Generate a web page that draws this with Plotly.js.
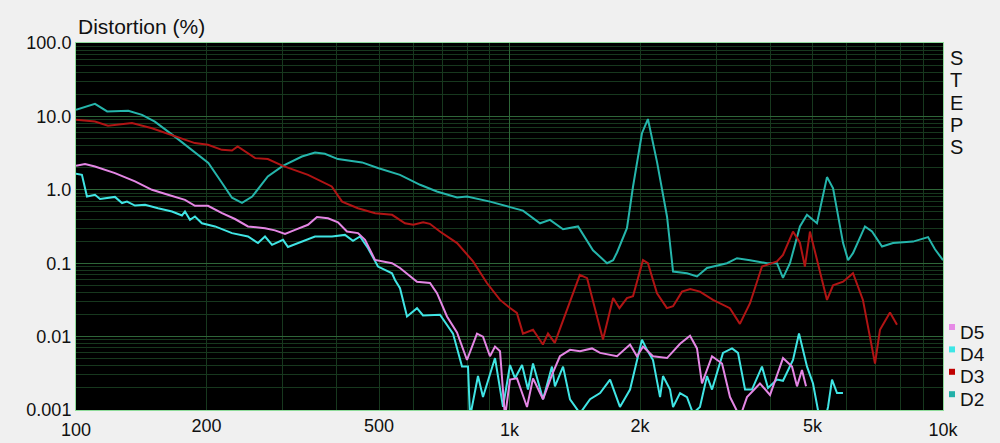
<!DOCTYPE html>
<html><head><meta charset="utf-8">
<script src="https://cdn.plot.ly/plotly-3.0.1.min.js"></script>
<style>html,body{margin:0;padding:0;background:#f0f0f0;} #chart{width:1000px;height:443px;}</style>
</head><body><div id="chart"></div>
<script>
// ---- data (frequency in Hz, distortion in %) ----
const seriesNames = ['D5', 'D4', 'D3', 'D2'];

const d2Freq = [100, 110.6, 118, 132, 142, 152, 169, 185, 202, 217,
  229, 241.5, 255, 277, 300, 332, 356, 375, 402, 457,
  497, 559, 622, 680, 757, 798, 902, 1003, 1074, 1176,
  1240, 1329, 1439, 1558, 1679, 1734, 1770, 1866, 1927, 2021,
  2086, 2189, 2309, 2384, 2567, 2707, 2855, 3174, 3348, 3588,
  3926, 4140, 4274, 4436, 4677, 4855, 5120, 5400, 5577, 5882,
  6040, 6200, 6607, 6859, 7234, 7669, 8529, 9236, 9583, 10000];
const d2Val = [12.3, 14.8, 11.7, 11.9, 10.5, 8.5, 5.3, 3.5, 2.33, 1.25,
  0.78, 0.665, 0.81, 1.52, 2.12, 2.84, 3.22, 3.1, 2.62, 2.36,
  1.98, 1.6, 1.17, 0.95, 0.785, 0.81, 0.69, 0.58, 0.52, 0.35,
  0.39, 0.29, 0.317, 0.15, 0.1, 0.11, 0.14, 0.3, 1.1, 5.9,
  9.2, 2.4, 0.43, 0.077, 0.073, 0.066, 0.086, 0.1, 0.117, 0.11,
  0.1, 0.1, 0.063, 0.1, 0.317, 0.456, 0.35, 1.49, 1.05, 0.188,
  0.11, 0.137, 0.317, 0.27, 0.169, 0.188, 0.197, 0.227, 0.155, 0.11];

const d3Freq = [100, 110.6, 118.5, 134.6, 149.7, 169, 188, 201.6, 217, 229,
  236, 259, 277, 300, 343, 389, 411, 447, 490, 536,
  574, 600, 632, 655, 691, 757, 824, 887, 951, 1003,
  1040, 1074, 1133, 1194, 1227, 1272, 1357, 1453, 1510, 1643,
  1734, 1793, 1866, 1927, 2032, 2086, 2189, 2307, 2384, 2500,
  2611, 2750, 2947, 3224, 3400, 3588, 3823, 4140, 4274, 4508,
  4677, 4802, 4933, 5400, 5577, 5882, 6200, 6535, 6969, 7155,
  7546, 7832];
const d3Val = [9.0, 8.5, 7.45, 8.1, 6.9, 5.45, 4.33, 4.1, 3.5, 3.43,
  3.9, 2.7, 2.62, 2.12, 1.6, 1.11, 0.69, 0.56, 0.48, 0.456,
  0.35, 0.334, 0.36, 0.344, 0.27, 0.188, 0.106, 0.0537, 0.0316, 0.0245,
  0.021, 0.011, 0.0124, 0.0078, 0.011, 0.0082, 0.0233, 0.0695, 0.0626, 0.0091,
  0.0335, 0.0244, 0.0335, 0.0354, 0.11, 0.1, 0.039, 0.0244, 0.0259, 0.041,
  0.0444, 0.041, 0.0316, 0.0244, 0.0149, 0.0285, 0.09, 0.106, 0.13, 0.27,
  0.19, 0.09, 0.27, 0.0316, 0.05, 0.056, 0.073, 0.0316, 0.0043, 0.0124,
  0.0213, 0.0145];

const d4Freq = [100, 103.2, 106, 110.6, 113.6, 123, 127.7, 131.1, 136.8, 144.3,
  154.6, 166.5, 175.6, 178.4, 183.2, 188.1, 195.2, 209.3, 229, 249.3,
  262.9, 272.9, 283.3, 300.3, 308.3, 332.2, 355.9, 389.5, 417.3, 435.5,
  452, 471.7, 497.4, 535.8, 544.4, 559, 580.2, 611.8, 631.7, 691.3,
  717.5, 740.8, 777.1, 802.2, 810.8, 845.9, 868.7, 925.9, 966.1, 1002.7,
  1029.7, 1069, 1103, 1133, 1195, 1253, 1273, 1329, 1379, 1454,
  1534, 1618, 1706, 1798, 1897, 2021, 2076, 2143, 2225, 2260,
  2346, 2384, 2474, 2567, 2650, 2750, 2855, 2932, 3108, 3261,
  3366, 3494, 3625, 3823, 3948, 4141, 4275, 4508, 4654, 4857,
  5014, 5122, 5260, 5430, 5546, 5695, 5878];
const d4Val = [1.65, 1.6, 0.81, 0.855, 0.75, 0.8, 0.66, 0.69, 0.61, 0.625,
  0.56, 0.506, 0.447, 0.506, 0.39, 0.433, 0.35, 0.317, 0.257, 0.231,
  0.188, 0.231, 0.178, 0.208, 0.166, 0.197, 0.231, 0.231, 0.243, 0.202,
  0.231, 0.16, 0.09, 0.073, 0.059, 0.0457, 0.0188, 0.0244, 0.0194, 0.0199,
  0.0145, 0.011, 0.0039, 0.0039, 0.0008, 0.0029, 0.0015, 0.0051, 0.0011, 0.0041,
  0.0027, 0.0041, 0.0019, 0.0043, 0.0014, 0.0039, 0.0021, 0.0039, 0.0014, 0.0009,
  0.0014, 0.0017, 0.0026, 0.0011, 0.0019, 0.0091, 0.0066, 0.0048, 0.0015, 0.0029,
  0.0019, 0.0011, 0.0017, 0.0015, 0.0009, 0.0011, 0.0029, 0.0019, 0.006, 0.0069,
  0.006, 0.0019, 0.0019, 0.0039, 0.002, 0.0026, 0.0025, 0.0048, 0.011, 0.0039,
  0.0023, 0.0011, 0.0005, 0.0011, 0.0026, 0.0017, 0.0017];

const d5Freq = [100, 104.9, 110.6, 123, 136.8, 149.7, 163, 178.4, 188.1, 201.6,
  217.2, 232.7, 249.3, 272.9, 287.7, 303.5, 320.1, 342.9, 359.7, 381.3,
  402.1, 421.8, 447.2, 464.2, 489.5, 535.8, 559, 611.8, 655.6, 680.4,
  717.5, 756.7, 797.9, 841.4, 868.7, 901.5, 925.9, 950.9, 976.4, 1002.7,
  1040.6, 1097.5, 1133, 1195, 1253, 1307, 1379, 1454, 1550, 1618,
  1770, 1897, 1968, 2032, 2143, 2309, 2474, 2609, 2707, 2780,
  2932, 3092, 3226, 3402, 3531, 3782, 3990, 4275, 4484, 4605,
  4728, 4831];
const d5Val = [2.12, 2.24, 2.08, 1.69, 1.3, 1.0, 0.855, 0.73, 0.605, 0.605,
  0.48, 0.4, 0.317, 0.3, 0.28, 0.25, 0.285, 0.334, 0.425, 0.41,
  0.36, 0.27, 0.257, 0.208, 0.111, 0.1, 0.086, 0.056, 0.0537, 0.039,
  0.0188, 0.0114, 0.0048, 0.011, 0.01, 0.0054, 0.0073, 0.0063, 0.0008, 0.0026,
  0.0027, 0.0011, 0.0027, 0.0014, 0.003, 0.0054, 0.0066, 0.0063, 0.0069, 0.006,
  0.0054, 0.0078, 0.0054, 0.0073, 0.0054, 0.0051, 0.008, 0.0103, 0.0069, 0.0023,
  0.0054, 0.0043, 0.0015, 0.0008, 0.0015, 0.0023, 0.0016, 0.0051, 0.0039, 0.0021,
  0.0035, 0.0021];

// axis ticks
const xDecadeTicks = [100, 1000, 10000];
const xDecadeLabels = ['100', '1k', '10k'];
const xOtherTicks = [200, 500, 2000, 5000];
const xOtherLabels = ['200', '500', '2k', '5k'];
const yTicks = [0.001, 0.01, 0.1, 1, 10, 100];
const yLabels = ['0.001', '0.01', '0.1', '1.0', '10.0', '100.0'];
const sideLetters = ['S', 'T', 'E', 'P', 'S'];

// ---- styles ----
const colors = {D2: '#25b5ab', D3: '#b01414', D4: '#40e4e4', D5: '#e486e4'};
const legendColors = {D2: '#22b0a8', D3: '#c00000', D4: '#3ee6e6', D5: '#e68ae6'};
const FONT = 'Arial, "Liberation Sans", sans-serif';
const MAJOR_GRID = '#2e6638';
const MINOR_GRID = '#17381e';

function minorVals(lo, hi) {
  const v = [];
  for (let e = lo; e < hi; e++) for (let d = 2; d <= 9; d++) v.push(+(d * Math.pow(10, e)).toPrecision(6));
  return v;
}

const seriesData = {
  D2: [d2Freq, d2Val], D3: [d3Freq, d3Val], D4: [d4Freq, d4Val], D5: [d5Freq, d5Val]
};
const drawOrder = ['D2', 'D3', 'D4', 'D5'];
const traces = drawOrder.map(n => ({
  type: 'scatter', mode: 'lines', name: n,
  x: seriesData[n][0], y: seriesData[n][1],
  line: {color: colors[n], width: 2},
  showlegend: false, hoverinfo: 'skip'
}));
// empty trace carrying the secondary label axis
traces.push({type: 'scatter', mode: 'lines', x: [], y: [], xaxis: 'x2', yaxis: 'y', showlegend: false, hoverinfo: 'skip'});

const L = 76, R = 943, T = 43, B = 410;
const W = R - L, H = B - T;
const px = p => (p - L) / W;
const py = p => (B - p) / H;

const annotations = [];
sideLetters.forEach((ch, i) => {
  annotations.push({
    text: ch, xref: 'paper', yref: 'paper', x: px(956.5), y: py(58 + i * 22.3),
    xanchor: 'center', yanchor: 'middle', showarrow: false,
    font: {family: FONT, size: 20, color: '#111'}
  });
});
const shapes = [];
seriesNames.forEach((n, i) => {
  const cy = 332 + i * 22.4;
  annotations.push({
    text: n, xref: 'paper', yref: 'paper', x: px(958), y: py(cy),
    xanchor: 'left', yanchor: 'middle', showarrow: false,
    font: {family: FONT, size: 19, color: '#111'}
  });
  shapes.push({
    type: 'rect', xref: 'paper', yref: 'paper',
    x0: px(949), x1: px(955), y0: py(cy - 2), y1: py(cy - 8),
    fillcolor: legendColors[n], line: {width: 0}
  });
});

const layout = {
  width: 1000, height: 443,
  paper_bgcolor: '#f0f0f0', plot_bgcolor: '#000000',
  margin: {l: L, r: 1000 - R, t: T, b: 443 - B, pad: 0},
  showlegend: false,
  font: {family: FONT, size: 18, color: '#111'},
  title: {text: 'Distortion (%)', xref: 'container', x: 0.078, xanchor: 'left',
          yref: 'container', y: 1 - 26.5 / 443, yanchor: 'middle', font: {family: FONT, size: 21, color: '#111'}},
  xaxis: {
    type: 'log', range: [2, 4], tickmode: 'array', tickvals: xDecadeTicks, ticktext: xDecadeLabels,
    showgrid: true, gridcolor: MAJOR_GRID, gridwidth: 1, zeroline: false, ticks: '', ticklabelstandoff: 3,
    showline: true, linecolor: '#8edb9a', linewidth: 1, mirror: true,
    minor: {tickmode: 'array', tickvals: minorVals(2, 4), showgrid: true, gridcolor: MINOR_GRID, gridwidth: 1, ticks: ''},
    fixedrange: true, tickfont: {family: FONT, size: 18, color: '#111'}
  },
  xaxis2: {
    type: 'log', range: [2, 4], overlaying: 'x', anchor: 'y', side: 'bottom',
    tickmode: 'array', tickvals: xOtherTicks, ticktext: xOtherLabels, ticklabelstandoff: 3,
    showgrid: false, zeroline: false, ticks: '', showline: false, fixedrange: true,
    tickfont: {family: FONT, size: 18, color: '#111'}
  },
  yaxis: {
    type: 'log', range: [-3, 2], tickmode: 'array', tickvals: yTicks, ticktext: yLabels,
    showgrid: true, gridcolor: MAJOR_GRID, gridwidth: 1, zeroline: false, ticks: '',
    showline: true, linecolor: '#8edb9a', linewidth: 1, mirror: true,
    minor: {tickmode: 'array', tickvals: minorVals(-3, 2), showgrid: true, gridcolor: MINOR_GRID, gridwidth: 1, ticks: ''},
    fixedrange: true, tickfont: {family: FONT, size: 18, color: '#111'}
  },
  annotations: annotations,
  shapes: shapes
};

Plotly.newPlot('chart', traces, layout, {staticPlot: true, displayModeBar: false});
</script>
</body></html>
